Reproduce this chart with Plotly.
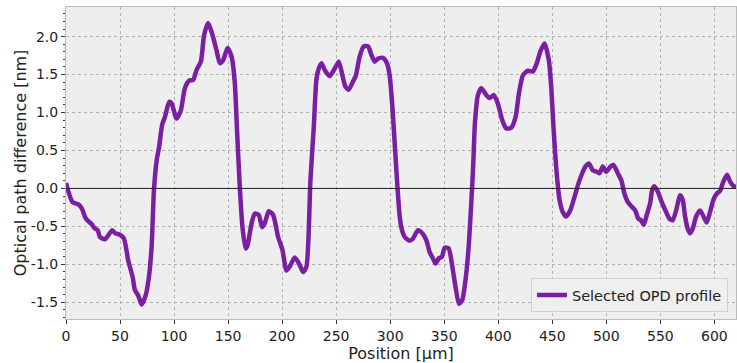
import plotly.graph_objects as go

position_um = [0, 6, 11.4, 14.5, 18.5, 23.7, 26.8, 29.3, 31.4, 36, 42.8, 45.3, 49.9, 53.6, 57.6, 61.7, 63.8, 66.8, 70,
               73.7, 76.7, 79.2, 81.4, 83.9, 86.2, 89, 91.5, 95.5, 97.7, 102.3, 106.3, 110, 114, 117.7, 120.8, 124.8,
               127.8, 131.5, 135.2, 139.3, 142.3, 145.4, 149.5, 153.2, 156.2, 158.4, 160.9, 163.3, 166.2, 168, 171.7,
               174.7, 178.4, 181.5, 183.9, 187.6, 191.7, 196.3, 200.3, 204, 207, 211.7, 215.7, 219.4, 222.5, 226.2,
               229.3, 231.7, 233.9, 236.4, 239.4, 244, 248.7, 252.4, 255.8, 258.6, 261.6, 265.6, 268.1, 271.8, 275.5,
               279.5, 282.6, 285.6, 288.7, 293.3, 297, 299.5, 302, 304.2, 306.3, 308.8, 310.9, 313.4, 318, 321.1,
               325.7, 329.7, 333.4, 336.5, 339.5, 342, 345.1, 347.9, 350.4, 354.1, 357.5, 360.5, 363.6, 366.7, 370.4,
               372.8, 375, 376.8, 378.4, 381.2, 384.3, 388.9, 392, 395.9, 399.6, 403.7, 407.4, 412, 416, 419.1, 422.8,
               427.4, 432, 435.7, 438.8, 442.8, 446.8, 449, 451.1, 453.6, 456.7, 459.7, 462.8, 466.6, 470.6, 474.3,
               477.7, 480.7, 483.8, 487.5, 491.2, 493.7, 496.7, 499.9, 503.9, 506.6, 510.6, 513.8, 516.8, 519.9, 523.6,
               526.7, 529.7, 532.2, 534.6, 537.4, 540.5, 542.4, 544.5, 547.6, 551.3, 554.7, 558.4, 561.4, 564.6, 568.3,
               570.7, 572.9, 575.3, 577.5, 580, 583.1, 586.8, 589.9, 592.9, 596, 599.1, 602.1, 605.3, 608.3, 611.7,
               614.5, 617.8, 620]
opd_nm = [0.07, -0.18, -0.21, -0.26, -0.40, -0.47, -0.53, -0.55, -0.64, -0.67, -0.55, -0.59, -0.61, -0.66, -0.95, -1.17,
          -1.34, -1.41, -1.53, -1.41, -1.17, -0.77, -0.02, 0.37, 0.55, 0.84, 0.94, 1.14, 1.12, 0.92, 1.03, 1.32, 1.42,
          1.43, 1.56, 1.67, 2.02, 2.18, 2.04, 1.82, 1.65, 1.69, 1.85, 1.74, 1.39, 0.73, 0.0, -0.51, -0.79, -0.75, -0.46,
          -0.33, -0.35, -0.51, -0.46, -0.30, -0.35, -0.64, -0.81, -1.08, -1.03, -0.91, -0.99, -1.10, -1.03, 0.11,
          0.81, 1.43, 1.58, 1.65, 1.56, 1.48, 1.58, 1.67, 1.49, 1.34, 1.30, 1.41, 1.48, 1.74, 1.87, 1.87, 1.76, 1.67,
          1.71, 1.72, 1.65, 1.49, 1.08, 0.59, 0.11, -0.37, -0.55, -0.64, -0.69, -0.66, -0.55, -0.59, -0.68, -0.84,
          -0.92, -0.99, -0.92, -0.90, -0.78, -0.79, -1.03, -1.30, -1.52, -1.47, -1.12, -0.73, -0.20, 0.30, 0.86, 1.23,
          1.32, 1.23, 1.19, 1.23, 1.12, 0.90, 0.79, 0.80, 0.94, 1.25, 1.49, 1.55, 1.54, 1.65, 1.80, 1.91, 1.69, 1.34,
          0.81, 0.28, -0.15, -0.31, -0.37, -0.29, -0.11, 0.07, 0.20, 0.29, 0.33, 0.24, 0.22, 0.20, 0.29, 0.22, 0.29,
          0.31, 0.20, 0.11, -0.07, -0.18, -0.24, -0.29, -0.40, -0.42, -0.48, -0.35, -0.20, -0.02, 0.03, -0.04, -0.18,
          -0.29, -0.40, -0.42, -0.29, -0.09, -0.15, -0.37, -0.53, -0.59, -0.53, -0.37, -0.29, -0.37, -0.45, -0.31,
          -0.15, -0.07, -0.03, 0.09, 0.18, 0.09, 0.03, 0.02]

x_ticks = [0, 50, 100, 150, 200, 250, 300, 350, 400, 450, 500, 550, 600]
y_ticks = [-1.5, -1.0, -0.5, 0.0, 0.5, 1.0, 1.5, 2.0]
y_ticklabels = ["-1.5", "-1.0", "-0.5", "0.0", "0.5", "1.0", "1.5", "2.0"]

fig = go.Figure()
fig.add_trace(go.Scatter(
    x=position_um, y=opd_nm, mode="lines", name="Selected OPD profile",
    line=dict(color="#7b1fa2", width=4.5, shape="spline", smoothing=0.6),
))

fig.add_hline(y=0, line=dict(color="#222222", width=1))

fig.update_layout(
    width=737, height=363,
    margin=dict(l=66, r=1, t=7, b=44),
    paper_bgcolor="white", plot_bgcolor="#eeeeee",
    font=dict(family="DejaVu Sans", size=14, color="#222222"),
    showlegend=True,
    legend=dict(x=0.988, y=0.022, xanchor="right", yanchor="bottom",
                bgcolor="rgba(238,238,238,0.9)", bordercolor="#d0d0d0", borderwidth=1,
                font=dict(size=14.5)),
)

fig.update_xaxes(
    range=[0, 620], tickvals=x_ticks, ticks="outside", ticklen=4, tickcolor="#333333",
    showgrid=True, gridcolor="#b2b2b2", griddash="dot", gridwidth=1,
    showline=True, linecolor="#bcbcbc", mirror=True, zeroline=False,
    title=dict(text="Position [µm]", font=dict(size=16), standoff=0),
)
fig.update_yaxes(
    range=[-1.72, 2.39], tickvals=y_ticks, ticktext=y_ticklabels, ticks="outside", ticklen=4,
    tickcolor="#333333",
    minor=dict(ticks="outside", ticklen=2, dtick=0.1, tickcolor="#333333", showgrid=False),
    showgrid=True, gridcolor="#b2b2b2", griddash="dot", gridwidth=1,
    showline=True, linecolor="#bcbcbc", mirror=True, zeroline=False,
    title=dict(text="Optical path difference [nm]", font=dict(size=16), standoff=0),
)

fig.write_html("out.html", config={"displayModeBar": False},
               post_script="document.body.style.margin='0';")
